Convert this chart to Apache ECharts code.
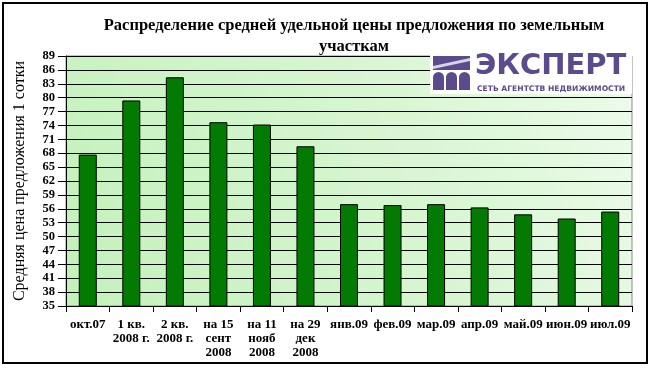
<!DOCTYPE html>
<html>
<head>
<meta charset="utf-8">
<script src="https://cdn.jsdelivr.net/npm/echarts@6/dist/echarts.min.js"></script>
<style>html,body{margin:0;padding:0;background:#fff;}#c{width:653px;height:368px;}</style>
</head>
<body>
<div id="c"></div>
<script>
const categories = ['окт.07', '1 кв.\n2008 г.', '2 кв.\n2008 г.', 'на 15\nсент\n2008', 'на 11\nнояб\n2008', 'на 29\nдек\n2008', 'янв.09', 'фев.09', 'мар.09', 'апр.09', 'май.09', 'июн.09', 'июл.09'];
const prices = [67.7, 79.4, 84.4, 74.7, 74.2, 69.5, 57.0, 56.8, 57.0, 56.3, 54.8, 53.9, 55.4];
const yMin = 35, yMax = 89, yStep = 3;
const titleText = 'Распределение средней удельной цены предложения по земельным\nучасткам';
const yTitle = 'Средняя цена предложения 1 сотки';
const logoName = 'ЭКСПЕРТ';
const logoSub = 'СЕТЬ АГЕНТСТВ НЕДВИЖИМОСТИ';

const serif = '"Liberation Serif", "Times New Roman", serif';
const purple = '#5b4b8c';
const chart = echarts.init(document.getElementById('c'), null, {renderer: 'canvas'});
chart.setOption({
  animation: false,
  backgroundColor: '#fff',
  title: {
    text: titleText,
    left: 349, top: 10, textAlign: 'center',
    textStyle: {fontFamily: serif, fontWeight: 'bold', fontSize: 16.5, color: '#000', lineHeight: 21}
  },
  grid: {
    left: 66, right: 21, top: 56, bottom: 62,
    show: true, borderColor: '#8a8a8a', borderWidth: 1,
    backgroundColor: {type: 'linear', x: 0, y: 1, x2: 1, y2: 0,
      colorStops: [{offset: 0, color: '#c3f1ba'}, {offset: 0.6, color: '#d7f6d1'}, {offset: 1, color: '#eefbec'}]}
  },
  xAxis: {
    type: 'category', data: categories,
    axisLine: {lineStyle: {color: '#000', width: 1}},
    axisTick: {show: true, length: 6, lineStyle: {color: '#000'}},
    axisLabel: {interval: 0, margin: 12, fontFamily: serif, fontWeight: 'bold', fontSize: 13, color: '#000', lineHeight: 14}
  },
  yAxis: {
    type: 'value', min: yMin, max: yMax, interval: yStep,
    name: yTitle, nameLocation: 'middle', nameRotate: 90, nameGap: 38,
    nameTextStyle: {fontFamily: serif, fontSize: 16, color: '#000'},
    axisLine: {show: true, lineStyle: {color: '#000', width: 1}},
    axisTick: {show: true, length: 8, lineStyle: {color: '#000'}},
    axisLabel: {margin: 11, fontFamily: serif, fontWeight: 'bold', fontSize: 12.5, color: '#000'},
    splitLine: {show: true, lineStyle: {color: '#000', width: 1}}
  },
  series: [{
    type: 'bar', data: prices, barWidth: 18,
    itemStyle: {color: '#037b03', borderColor: '#000', borderWidth: 1}
  }],
  graphic: [
    {type: 'rect', z: 100, shape: {x: 3, y: 3, width: 644, height: 360}, style: {fill: 'none', stroke: '#000', lineWidth: 2}},
    {type: 'rect', z: 100, shape: {x: 430, y: 52, width: 202, height: 42}, style: {fill: '#fff'}},
    {type: 'rect', z: 101, shape: {x: 433, y: 56, width: 37, height: 14}, style: {fill: purple}},
    {type: 'polygon', z: 102, shape: {points: [[433, 66], [470, 58], [470, 61], [433, 69]]}, style: {fill: '#d8d3e6'}},
    {type: 'rect', z: 101, shape: {x: 433, y: 72, width: 11, height: 18, r: [6, 6, 0, 0]}, style: {fill: purple}},
    {type: 'rect', z: 101, shape: {x: 446, y: 72, width: 11, height: 18, r: [6, 6, 0, 0]}, style: {fill: purple}},
    {type: 'rect', z: 101, shape: {x: 459, y: 72, width: 11, height: 18, r: [6, 6, 0, 0]}, style: {fill: purple}},
    {type: 'text', z: 101, x: 475, y: 52, style: {text: logoName, fill: purple, font: 'bold 29px "DejaVu Sans", sans-serif'}},
    {type: 'text', z: 101, x: 477, y: 85, style: {text: logoSub, fill: purple, font: 'bold 7.6px "DejaVu Sans", sans-serif'}}
  ]
});
</script>
</body>
</html>
